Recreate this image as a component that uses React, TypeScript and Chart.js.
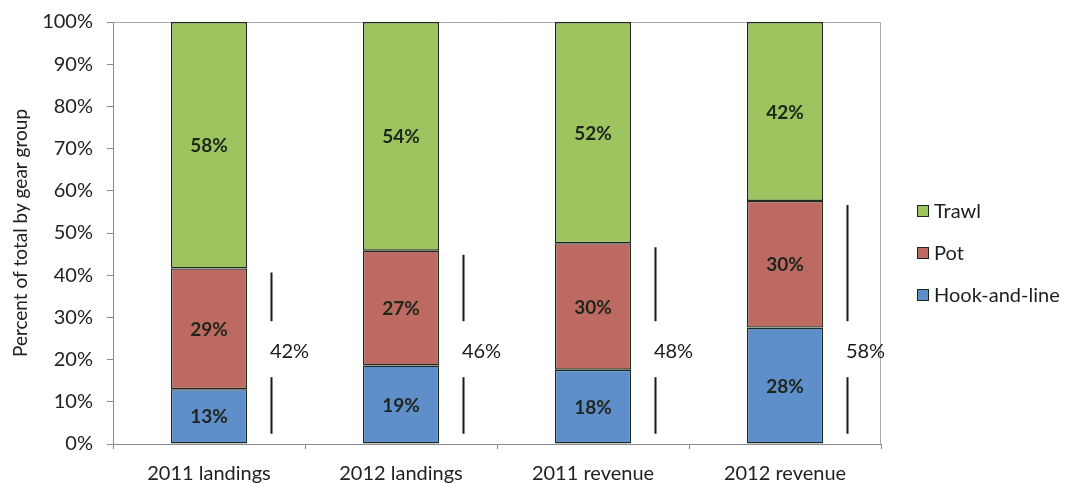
import React, { useEffect, useRef } from "react";
import { Chart, registerables } from "chart.js";

Chart.register(...registerables);

const categories = ["2011 landings", "2012 landings", "2011 revenue", "2012 revenue"];
const hookAndLine = [13.0, 18.6, 17.6, 27.6];
const pot = [28.6, 27.2, 30.0, 30.0];
const trawl = [58.4, 54.2, 52.4, 42.4];
const seriesNames = ["Hook-and-line", "Pot", "Trawl"];
const seriesColors = ["#5f8fca", "#bc6a62", "#9ec460"];
const yTicks = [0, 10, 20, 30, 40, 50, 60, 70, 80, 90, 100];

const FONT = "Lato";

const annotate = {
  id: "annotate",
  beforeDatasetsDraw(chart: any) {
    const { ctx, chartArea: a } = chart;
    ctx.save();
    ctx.strokeStyle = "#a8a8a8";
    ctx.lineWidth = 1;
    ctx.beginPath();
    ctx.moveTo(a.left, a.top + 0.5);
    ctx.lineTo(a.right - 0.5, a.top + 0.5);
    ctx.lineTo(a.right - 0.5, a.bottom);
    ctx.stroke();
    ctx.restore();
  },
  afterDatasetsDraw(chart: any) {
    const { ctx } = chart;
    const yS = chart.scales.y;
    ctx.save();
    // segment labels
    ctx.font = `bold 19px ${FONT}`;
    ctx.fillStyle = "#1e261c";
    ctx.textAlign = "center";
    ctx.textBaseline = "middle";
    chart.data.datasets.forEach((ds: any, di: number) => {
      const meta = chart.getDatasetMeta(di);
      meta.data.forEach((bar: any, i: number) => {
        const { x, y, base } = bar.getProps(["x", "y", "base"], true);
        ctx.fillText(Math.round(ds.data[i]) + "%", x, (y + base) / 2 + 1);
      });
    });
    // brackets with combined share
    const potMeta = chart.getDatasetMeta(1);
    ctx.strokeStyle = "#1a1a1a";
    ctx.lineWidth = 2;
    ctx.font = `20px ${FONT}`;
    ctx.fillStyle = "#1a1a1a";
    categories.forEach((_c, i) => {
      const bar = potMeta.data[i];
      const { x, y, width } = bar.getProps(["x", "y", "width"], true);
      const lx = Math.round(x + width / 2 + 24) + 0.5;
      const ty = yS.getPixelForValue(22);
      const top = y + 4;
      const bottom = yS.getPixelForValue(2.4);
      ctx.beginPath();
      ctx.moveTo(lx, top);
      ctx.lineTo(lx, ty - 30);
      ctx.moveTo(lx, ty + 26);
      ctx.lineTo(lx, bottom);
      ctx.stroke();
      ctx.fillText(Math.round(hookAndLine[i] + pot[i]) + "%", lx + 18, ty);
    });
    // legend (reverse order)
    ctx.font = `20px ${FONT}`;
    ctx.textAlign = "left";
    ctx.lineWidth = 1;
    const order = [2, 1, 0];
    order.forEach((si, k) => {
      const cy = 211 + k * 42;
      ctx.fillStyle = seriesColors[si];
      ctx.fillRect(917, cy - 6, 12, 12);
      ctx.strokeStyle = "#1d261d";
      ctx.strokeRect(917.5, cy - 5.5, 11, 11);
      ctx.fillStyle = "#1e1e1e";
      ctx.fillText(seriesNames[si], 934, cy + 1);
    });
    ctx.restore();
  },
};

export default function App() {
  const ref = useRef<HTMLCanvasElement | null>(null);
  useEffect(() => {
    if (!ref.current) return;
    const values = [hookAndLine, pot, trawl];
    const chart = new Chart(ref.current, {
      type: "bar",
      data: {
        labels: categories,
        datasets: seriesNames.map((name, i) => ({
          label: name,
          data: values[i],
          backgroundColor: seriesColors[i],
          borderColor: "#1d2a1d",
          borderWidth: 1.4,
          borderSkipped: false,
          barPercentage: 0.396,
          categoryPercentage: 1,
        })),
      },
      options: {
        animation: false,
        responsive: true,
        maintainAspectRatio: false,
        layout: { padding: { left: 0, top: 10, right: 186, bottom: 0 } },
        plugins: { legend: { display: false }, tooltip: { enabled: false } },
        scales: {
          x: {
            stacked: true,
            afterFit: (s: any) => {
              s.height = 39;
            },
            grid: {
              display: true,
              drawOnChartArea: false,
              drawTicks: true,
              tickLength: 5,
              color: "#8a8a8a",
              offset: true,
            },
            border: { color: "#8a8a8a", width: 1 },
            ticks: {
              color: "#222",
              font: { family: FONT, size: 20 },
              padding: 13,
              maxRotation: 0,
            },
          },
          y: {
            stacked: true,
            min: 0,
            max: 100,
            afterFit: (s: any) => {
              s.width = 113;
            },
            afterBuildTicks: (s: any) => {
              s.ticks = yTicks.map((v) => ({ value: v }));
            },
            grid: {
              display: true,
              drawOnChartArea: false,
              drawTicks: true,
              tickLength: 6,
              color: "#8a8a8a",
            },
            border: { color: "#8a8a8a", width: 1 },
            ticks: {
              color: "#222",
              font: { family: FONT, size: 20, lineHeight: 0.8 },
              padding: 14,
              callback: (v: any) => v + "%",
            },
            title: {
              display: true,
              text: "Percent of total by gear group",
              color: "#222",
              font: { family: FONT, size: 19 },
              padding: { top: 9, bottom: 0 },
            },
          },
        },
      },
      plugins: [annotate],
    });
    return () => chart.destroy();
  }, []);
  return (
    <div style={{ position: "absolute", left: 0, top: 0, width: 1067, height: 483, background: "#fff" }}>
      <canvas ref={ref} />
    </div>
  );
}
